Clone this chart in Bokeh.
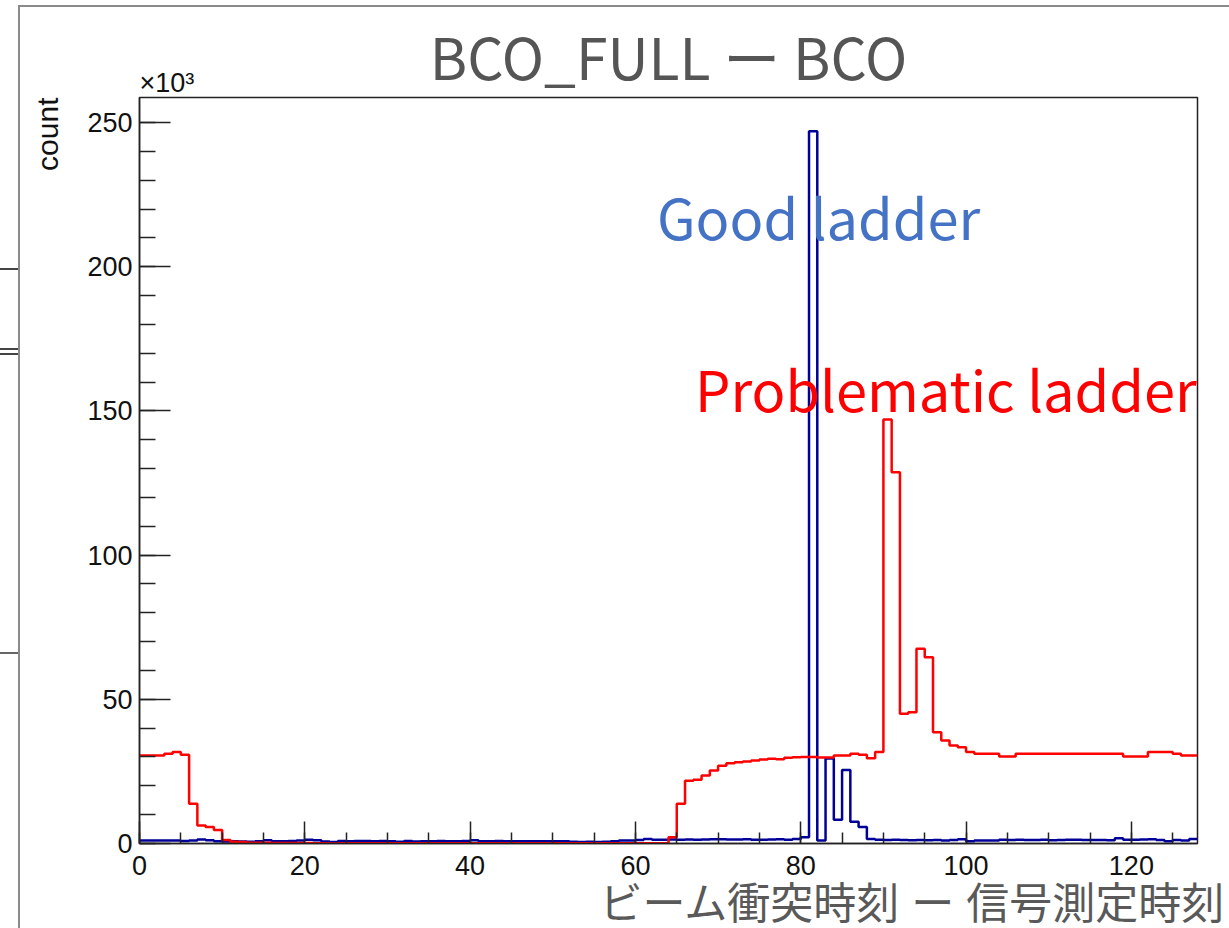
import numpy as np
from bokeh.plotting import figure
from bokeh.models import Range1d, SingleIntervalTicker, Label, Title, InlineStyleSheet
from bokeh.embed import file_html
from bokeh.resources import INLINE

# ---- data (counts in units of 10^3), 128 bins of width 1 from 0 to 128 ----
bin_edges = list(range(0, 129))

good_ladder = [
    1.0, 1.0, 1.0, 1.0, 1.0, 0.9, 1.0, 1.4, 1.1, 0.8,
    0.7, 0.8, 0.7, 0.6, 0.8, 1.1, 0.8, 0.8, 0.9, 1.0,
    1.3, 1.1, 0.7, 0.5, 0.9, 0.8, 0.9, 0.9, 0.8, 0.9,
    0.8, 0.6, 0.9, 0.7, 0.8, 0.8, 0.9, 0.8, 0.8, 0.9,
    1.1, 0.8, 0.8, 0.9, 0.8, 0.8, 0.8, 0.8, 0.8, 0.8,
    0.8, 0.8, 0.6, 0.5, 0.6, 0.5, 0.6, 0.8, 1.0, 1.0,
    1.2, 1.6, 1.3, 1.3, 1.4, 1.3, 1.4, 1.3, 1.4, 1.5,
    1.5, 1.4, 1.4, 1.5, 1.3, 1.3, 1.4, 1.5, 1.3, 1.6,
    2.2, 247.0, 1.0, 29.5, 8.2, 25.5, 7.5, 5.7, 1.6, 1.3,
    1.2, 1.3, 1.2, 1.1, 1.2, 1.1, 1.2, 1.0, 1.2, 1.5,
    0.8, 1.0, 1.0, 1.0, 1.3, 1.2, 1.3, 1.2, 1.2, 1.3,
    1.1, 1.2, 1.3, 1.3, 1.2, 1.2, 1.2, 1.1, 1.8, 1.3,
    1.3, 1.4, 1.5, 1.2, 0.8, 1.2, 1.0, 1.6,
]

problematic_ladder = [
    30.5, 30.5, 30.5, 31.1, 31.7, 30.8, 13.8, 6.2, 5.7, 4.7,
    1.2, 0.6, 0.5, 0.3, 0.3, 0.3, 0.2, 0.2, 0.2, 0.2,
    0.2, 0.1, 0.1, 0.0, 0.1, 0.1, 0.1, 0.1, 0.1, 0.1,
    0.1, 0.1, 0.1, 0.1, 0.1, 0.1, 0.1, 0.1, 0.1, 0.1,
    0.1, 0.1, 0.1, 0.1, 0.1, 0.1, 0.1, 0.1, 0.1, 0.1,
    0.1, 0.1, 0.1, 0.1, 0.1, 0.1, 0.1, 0.1, 0.1, 0.1,
    0.1, 0.1, 0.1, 0.1, 2.2, 13.8, 21.8, 22.1, 23.6, 25.3,
    27.0, 27.8, 28.2, 28.4, 28.8, 29.1, 29.4, 29.2, 29.7, 29.9,
    30.0, 30.0, 29.8, 29.8, 30.5, 30.5, 31.1, 30.8, 29.6, 31.7,
    147.0, 128.7, 45.0, 45.5, 67.5, 64.6, 38.6, 35.7, 34.0, 33.4,
    31.7, 31.1, 31.1, 31.1, 30.2, 30.2, 31.1, 31.1, 31.1, 31.1,
    31.1, 31.1, 31.1, 31.1, 31.1, 31.1, 31.1, 31.1, 31.1, 30.2,
    30.2, 30.2, 31.7, 31.7, 31.7, 31.1, 30.5, 30.5,
]

x_ticks_interval = 20
y_ticks_interval = 50

title_text = "BCO_FULL ー BCO"
x_label = "ビーム衝突時刻 ー 信号測定時刻"
y_label = "count"
exponent_text = "×10³"
good_text = "Good ladder"
bad_text = "Problematic ladder"

# ---- figure ----
p = figure(width=1229, height=928, output_backend="svg", toolbar_location=None,
           x_range=Range1d(0, 128), y_range=Range1d(0, 258.7),
           title=title_text,
           min_border_left=139, min_border_right=32, min_border_top=97, min_border_bottom=85)
p.background_fill_color = "white"
p.border_fill_color = "white"
p.outline_line_color = "#222222"
p.outline_line_width = 1.5
p.xgrid.visible = False
p.ygrid.visible = False

# main title (outermost in the "above" panel)
p.title.align = "center"
p.title.text_font = "Noto Sans CJK JP"
p.title.text_font_size = "57px"
p.title.text_font_style = "normal"
p.title.text_color = "#555555"
p.title.standoff = -58

# the "x10^3" exponent sits just above the frame, at its left end
expo = Title(text=exponent_text, align="left", text_font="Liberation Sans",
             text_font_size="27px", text_font_style="normal", text_color="#111111",
             standoff=-1)
p.add_layout(expo, "above")

ylab = Title(text=y_label, align="right", text_font="Liberation Sans",
             text_font_size="30px", text_font_style="normal", text_color="#111111",
             standoff=42)
p.add_layout(ylab, "left")

xlab = Title(text=x_label, align="right", text_font="Liberation Sans, Noto Sans CJK JP",
             text_font_size="43px", text_font_style="normal", text_color="#595959",
             standoff=1, offset=-28)
p.add_layout(xlab, "below")

for ax in (p.xaxis[0], p.yaxis[0]):
    ax.axis_line_color = "#222222"
    ax.axis_line_width = 1.5
    ax.major_tick_line_color = "#222222"
    ax.minor_tick_line_color = "#222222"
    ax.major_tick_line_width = 1.5
    ax.minor_tick_line_width = 1.5
    ax.major_tick_out = 0
    ax.minor_tick_out = 0
    ax.major_label_text_font = "Liberation Sans"
    ax.major_label_text_font_size = "27px"
    ax.major_label_text_color = "#111111"

p.xaxis.ticker = SingleIntervalTicker(interval=x_ticks_interval, num_minor_ticks=4)
p.yaxis.ticker = SingleIntervalTicker(interval=y_ticks_interval, num_minor_ticks=5)
p.xaxis.major_tick_in = 22
p.xaxis.minor_tick_in = 11
p.yaxis.major_tick_in = 31
p.yaxis.minor_tick_in = 16
p.xaxis.major_label_standoff = 12
p.yaxis.major_label_standoff = 7

edges = np.array(bin_edges, dtype=float)
g = np.array(good_ladder + [good_ladder[-1]])
b = np.array(problematic_ladder + [problematic_ladder[-1]])

p.step(edges, g, mode="after", line_color="#000099", line_width=2.5)
p.step(edges, b, mode="after", line_color="#ff0000", line_width=2.5)

p.add_layout(Label(x=62.6, y=217.8, text=good_text, text_font_size="56px",
                   text_color="#4472C4", text_font="Noto Sans CJK JP",
                   text_baseline="middle"))
p.add_layout(Label(x=67.2, y=158.2, text=bad_text, text_font_size="56px",
                   text_color="#ff0000", text_font="Noto Sans CJK JP",
                   text_baseline="middle"))

# outer gray slide frame and the cut-off rules of the slide underneath (pure decoration, CSS)
p.stylesheets = [InlineStyleSheet(css="""
:host::after {
  content: "";
  position: absolute;
  left: 18px; top: 5px; right: -10px; bottom: -10px;
  border-left: 2px solid #8a8a8a;
  border-top: 2px solid #8a8a8a;
  pointer-events: none;
  z-index: 10;
}
:host::before {
  content: "";
  position: absolute;
  left: 0px; top: 268px; width: 18px; height: 1.5px;
  background: #444444;
  box-shadow: 0 80px 0 #444444, 0 85px 0 #444444, 0 384px 0 #666666;
  pointer-events: none;
  z-index: 10;
}
""")]

open("out.html", "w").write(file_html(p, INLINE))
